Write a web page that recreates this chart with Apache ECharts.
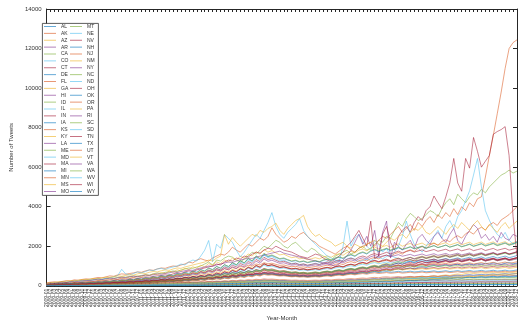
<!DOCTYPE html>
<html><head><meta charset="utf-8">
<script src="https://cdn.jsdelivr.net/npm/echarts@6/dist/echarts.min.js"></script>
<style>html,body{margin:0;padding:0;background:#fff}#c{width:522px;height:326px}</style>
</head><body><div id="c"></div>
<script>
const states = ['AL','AK','AZ','AR','CA','CO','CT','DE','FL','GA','HI','ID','IL','IN','IA','KS','KY','LA','ME','MD','MA','MI','MN','MS','MO','MT','NE','NV','NH','NJ','NM','NY','NC','ND','OH','OK','OR','PA','RI','SC','SD','TN','TX','UT','VT','VA','WA','WV','WI','WY'];
const years = [2009,2010,2011,2012,2013,2014,2015,2016,2017,2018];
const monthNums = ['01','02','03','04','05','06','07','08','09','10','11','12'];
const yTicks = [0,2000,4000,6000,8000,10000,12000,14000];

const s_AL=[40,52,47,61,58,72,66,80,75,92,88,104,97,118,110,126,121,140,133,156,148,170,162,188,176,205,194,224,210,246,232,268,252,290,276,315,298,340,322,368,350,395,378,425,402,455,430,488,460,520,492,548,520,580,545,610,572,590,555,520,535,505,480,495,462,478,450,468,488,462,505,530,502,552,575,548,598,622,590,648,672,640,700,728,692,758,788,750,820,852,810,870,905,862,930,968,920,990,1030,980,1010,1050,1000,1060,1085,1030,1080,1110,1060,1120,1090,1140,1100,1160,1120,1080,1140,1170,1110,1150];
const s_AK=[6,9,7,12,10,14,11,16,13,18,15,20,17,23,19,26,22,28,24,31,27,34,29,37,32,40,35,43,38,46,41,49,44,52,47,56,50,60,54,63,57,67,60,70,64,74,68,78,71,82,75,86,79,90,82,94,86,89,83,78,81,76,72,75,70,73,68,71,74,70,77,81,76,85,89,84,93,98,92,103,108,101,114,119,112,125,131,123,137,143,134,148,155,146,160,166,156,170,176,166,180,186,175,190,196,184,198,204,192,206,212,200,214,220,207,222,228,215,232,240];
const s_AZ=[55,72,64,86,78,100,92,116,106,134,122,152,140,172,158,194,178,218,200,244,224,270,248,298,274,328,300,360,330,392,360,428,394,466,430,508,468,552,510,600,556,652,604,706,654,764,708,826,766,890,826,958,890,1030,956,1100,1020,1060,990,930,960,905,860,885,830,855,810,840,870,835,890,925,880,955,995,945,1030,1070,1015,1105,1145,1090,1180,1225,1165,1265,1310,1250,1350,1395,1330,1390,1440,1375,1450,1500,1430,1480,1530,1460,1520,1560,1490,1550,1590,1520,1575,1610,1540,1590,1630,1560,1610,1650,1580,1620,1660,1600,1640,1680];
const s_AR=[20,30,25,36,32,42,38,48,44,54,50,60,56,68,62,75,70,82,77,90,85,98,92,106,100,115,108,124,116,133,125,143,134,154,144,165,155,176,166,188,176,200,188,212,200,225,212,238,225,252,238,266,252,280,266,295,280,288,272,258,264,250,238,245,232,238,226,234,243,233,250,260,248,272,284,270,296,308,293,320,334,318,347,362,344,376,392,373,408,425,404,432,450,428,456,474,450,478,496,470,498,516,490,520,540,512,540,560,530,558,578,548,575,596,565,590,612,580,606,628];
const s_CA=[100,150,130,180,200,170,220,250,240,280,300,280,320,350,330,370,400,380,420,450,430,470,500,480,520,560,540,600,650,620,680,700,750,720,800,850,900,880,950,1000,1100,1200,1050,1300,1250,1400,1500,1450,1300,1200,1350,1500,1700,1600,1800,2000,1900,2100,2300,2200,2000,1900,2100,2200,2000,1800,1700,1900,1800,1600,1500,1400,1300,1500,1600,1700,1800,1600,1700,1900,2000,1800,1900,2100,2300,2200,2500,2400,2800,3200,3000,3400,3660,3500,3300,3400,3600,3800,3700,3500,3900,4200,4400,4100,4630,4400,4200,4500,4700,4600,4880,4700,5000,5200,5400,5600,5700,5850,5700,5800];
const s_CO=[50,66,60,78,72,92,84,106,98,120,112,136,126,154,142,174,160,196,180,220,202,248,228,278,256,312,288,350,322,392,360,440,404,492,452,552,508,620,570,700,640,780,720,880,810,1000,920,1100,1020,1200,1100,1300,1200,1420,1300,1550,1420,1480,1360,1250,1300,1200,1120,1160,1060,1100,1020,1080,1140,1080,1160,1220,1150,1260,1320,1240,1360,1420,1340,1200,1280,1350,1270,1390,1450,1360,1480,1540,1440,1380,1300,1380,1440,1360,1420,1480,1400,1460,1520,1430,1490,1550,1460,1520,1580,1490,1540,1600,1500,1560,1620,1530,1580,1640,1550,1600,1660,1570,1620,1700];
const s_CT=[30,40,36,50,46,60,55,70,64,80,74,90,84,102,94,114,106,128,118,142,130,156,144,172,158,190,174,208,192,228,210,250,230,274,252,300,276,328,302,358,330,390,360,424,392,460,426,498,462,538,500,580,540,624,580,670,624,648,602,570,588,556,528,545,512,528,498,516,535,512,550,572,546,596,620,592,645,672,640,700,728,694,758,790,752,800,830,790,840,870,826,860,890,846,880,910,865,895,925,878,905,935,888,918,948,900,930,960,912,942,972,922,952,982,932,962,992,942,972,1000];
const s_DE=[5,7,6,9,8,10,9,12,11,13,12,15,14,17,15,18,17,20,18,22,20,24,22,26,24,28,26,30,28,33,30,35,33,38,35,40,37,43,40,46,42,48,45,51,47,54,50,57,53,60,56,63,59,66,62,70,65,68,63,60,62,58,55,57,53,55,52,54,56,53,57,60,57,62,65,61,68,71,67,74,77,73,80,84,79,88,92,87,96,100,94,102,106,100,108,112,106,114,118,111,116,121,114,119,124,117,122,127,120,125,130,122,127,132,125,130,135,127,132,138];
const s_FL=[150,180,200,170,220,260,240,300,280,320,350,330,380,420,400,450,500,480,550,600,580,620,650,700,680,750,800,780,850,900,880,950,1000,980,1050,1100,1200,1150,1300,1370,1300,1250,1400,1500,1600,1550,1700,1950,1800,1700,1900,2100,2000,2200,2400,2300,2500,2930,2600,2400,2200,2300,2500,2400,2600,2700,2500,2300,2200,2000,1900,1800,1700,1600,1750,1900,2000,1800,1700,1900,2000,2100,2200,2000,2300,2500,2400,2600,2800,3000,2700,2900,3100,2800,3200,3000,3300,3500,3200,3600,3400,3700,3500,3900,3600,4000,3800,4200,4000,4400,4500,5500,6585,7600,8700,9800,11000,12000,12300,12440];
const s_GA=[80,102,94,124,114,148,136,174,160,204,188,236,218,270,250,308,284,350,322,396,364,444,408,496,456,550,506,610,560,672,618,740,680,810,746,884,816,960,886,1040,960,1120,1040,1210,1120,1300,1210,1400,1300,1500,1400,1610,1500,1720,1600,1840,1700,1780,1660,1560,1600,1500,1420,1460,1360,1400,1320,1370,1420,1360,1450,1510,1440,1560,1620,1540,1680,1740,1660,1800,1860,1770,1900,1960,1860,1980,2040,1940,2060,2120,2000,2080,2140,2030,2100,2160,2040,2110,2170,2050,2120,2180,2060,2130,2190,2070,2140,2200,2080,2150,2210,2090,2160,2220,2100,2170,2230,2110,2180,2250];
const s_HI=[10,15,12,18,16,21,19,24,22,28,25,31,28,34,31,38,35,42,38,46,42,50,46,55,50,60,55,65,60,70,65,76,70,82,76,88,82,95,88,102,95,110,102,118,110,126,118,135,126,144,135,154,144,164,154,175,164,170,160,152,156,148,141,145,137,141,134,139,144,138,148,154,147,160,167,159,174,181,172,188,196,186,204,212,201,221,230,218,240,250,236,252,262,248,266,276,260,274,284,268,280,290,274,286,296,280,290,300,284,294,304,288,298,308,292,302,312,296,306,318];
const s_ID=[15,20,18,25,23,29,26,33,30,38,34,42,38,47,43,52,48,57,53,63,58,69,64,76,70,83,77,90,84,98,91,106,99,115,107,124,116,134,125,144,134,155,144,166,155,178,166,190,178,203,190,216,203,230,216,244,230,237,224,212,218,206,196,202,190,196,186,193,200,192,205,214,204,222,232,220,242,252,240,262,274,260,285,297,282,310,322,306,336,350,330,348,362,343,360,374,354,370,384,362,378,392,370,386,400,377,392,406,383,398,412,388,404,418,394,410,424,400,414,430];
const s_IL=[80,120,150,130,160,200,180,220,250,230,260,300,280,350,320,380,400,450,520,830,600,550,620,700,650,720,800,760,850,880,820,900,950,1000,1100,1050,1200,1300,1250,1500,1800,2290,1220,2100,1900,2590,2400,2200,1800,1460,1700,2000,2300,2600,2400,2800,3200,3700,3000,2600,2400,2700,2900,3100,3400,2800,2500,2300,2100,1900,1700,1500,1400,1300,1200,2000,3270,2000,2400,2600,2200,2000,1800,2300,2100,1700,1900,1500,1700,2000,2500,3270,2600,2100,1900,1700,2000,2300,2500,2800,2400,3000,3300,2900,3500,3800,4300,4800,5600,6440,5000,3800,3320,2900,2600,2400,2700,2300,2100,2250];
const s_IN=[40,54,48,64,58,76,69,88,80,100,92,114,105,128,118,144,132,160,148,178,164,198,182,220,202,244,224,270,248,298,274,328,302,360,332,396,364,434,400,474,436,518,478,564,520,612,566,662,614,714,662,768,714,824,766,880,820,850,794,740,764,716,676,698,652,674,634,660,688,656,706,734,700,760,792,756,826,860,820,896,934,890,970,1010,962,1050,1094,1040,1100,1150,1090,1140,1190,1130,1180,1230,1165,1210,1260,1190,1230,1280,1210,1250,1300,1230,1270,1320,1245,1285,1330,1255,1295,1340,1265,1305,1350,1275,1315,1360];
const s_IA=[20,26,23,31,28,36,33,41,38,46,43,51,48,57,53,63,59,69,65,76,71,83,78,90,85,98,92,107,100,116,108,126,117,136,127,147,137,158,148,170,159,182,170,195,182,208,194,222,207,236,220,250,234,265,248,280,262,270,256,242,248,236,225,231,218,224,213,221,229,220,235,244,233,254,265,252,276,287,274,299,312,297,326,340,323,354,369,350,370,388,368,384,400,380,396,412,390,406,422,398,414,430,406,422,438,413,428,444,418,434,450,424,440,456,430,446,462,436,452,470];
const s_KS=[25,31,28,36,33,42,38,47,43,53,49,59,55,66,61,73,68,81,75,89,83,98,91,107,100,117,109,128,119,139,130,151,141,164,153,178,166,192,180,207,194,222,208,238,223,255,239,272,255,290,272,309,290,328,309,348,328,338,320,303,311,295,281,289,273,281,267,277,287,275,294,306,292,318,331,316,345,359,343,374,390,372,407,424,404,440,450,430,446,462,440,456,472,450,466,482,458,474,490,466,482,498,472,488,504,478,494,510,484,500,516,490,506,522,496,512,528,502,518,536];
const s_KY=[30,40,36,48,44,56,51,64,58,72,66,81,74,90,83,100,92,111,102,123,113,136,125,150,138,165,152,181,167,199,183,218,201,240,221,264,243,290,267,318,292,348,320,380,350,414,382,450,416,488,452,528,490,570,530,614,572,594,562,530,546,516,490,505,476,490,462,480,498,476,512,534,508,556,580,552,604,630,598,656,686,652,716,748,710,780,800,762,810,840,798,826,854,812,840,868,824,852,880,834,862,890,844,872,900,852,880,908,860,888,916,866,894,922,872,900,928,878,906,936];
const s_LA=[35,45,41,54,49,63,57,72,66,82,75,93,85,105,96,118,108,132,121,147,135,163,150,181,166,200,184,221,203,244,224,269,247,296,272,326,299,358,329,393,361,431,396,472,434,516,476,564,520,616,568,672,620,732,676,796,736,766,722,680,700,662,628,648,612,632,596,618,642,614,660,688,656,716,748,712,780,814,776,848,886,844,924,964,918,980,1010,962,1020,1050,996,1030,1060,1006,1040,1070,1016,1050,1080,1024,1054,1084,1028,1058,1088,1032,1062,1092,1036,1066,1096,1040,1070,1100,1044,1074,1104,1048,1078,1110];
const s_ME=[10,13,12,16,15,19,17,22,20,25,23,28,26,32,29,35,32,39,36,43,40,47,44,52,48,57,53,62,58,68,63,74,69,80,75,87,81,94,88,102,95,110,102,118,110,127,118,136,127,146,136,156,146,167,156,178,167,172,162,153,157,149,142,146,138,142,135,140,145,139,149,155,148,161,168,160,175,182,173,189,197,187,205,214,203,223,232,220,242,252,238,258,270,254,276,288,270,292,304,284,298,310,290,304,316,296,310,322,302,316,330,308,322,336,314,328,342,320,334,350];
const s_MD=[40,54,49,64,58,74,67,84,77,96,88,108,99,122,112,137,125,153,140,171,157,191,175,213,195,237,217,264,241,294,268,326,298,362,330,402,366,446,406,494,450,546,498,604,550,666,606,734,668,806,734,880,804,960,878,1044,956,990,930,870,896,846,802,828,780,804,760,786,814,780,834,866,826,898,934,890,970,1008,962,1048,1090,1036,1128,1172,1114,1160,1200,1142,1188,1230,1168,1210,1250,1188,1228,1268,1204,1244,1284,1218,1258,1298,1232,1272,1312,1244,1284,1324,1256,1296,1336,1266,1306,1346,1276,1316,1356,1286,1326,1370];
const s_MA=[60,78,71,92,84,108,98,124,113,142,130,162,148,184,168,208,190,234,214,262,240,292,268,326,298,362,332,402,368,446,408,494,452,546,500,602,552,662,608,726,668,796,732,870,800,950,874,1036,952,1128,1036,1226,1128,1330,1224,1440,1326,1380,1290,1200,1240,1166,1100,1136,1070,1104,1042,1080,1120,1070,1144,1190,1134,1236,1286,1224,1338,1392,1326,1450,1506,1434,1564,1626,1548,1620,1690,1610,1680,1750,1668,1730,1790,1706,1760,1814,1726,1780,1834,1744,1796,1848,1756,1808,1860,1766,1818,1870,1776,1828,1880,1784,1836,1888,1792,1844,1896,1800,1852,1910];
const s_MI=[45,60,50,72,68,85,80,98,92,110,104,125,118,140,132,155,148,172,165,190,182,210,200,232,220,256,244,282,268,310,295,340,325,372,356,405,388,442,422,480,458,520,496,565,538,612,582,660,630,700,670,745,712,790,755,830,800,780,740,700,720,680,650,670,620,640,600,630,660,620,690,720,680,750,790,740,820,860,810,880,920,870,950,990,940,1020,1070,1010,1100,1150,1090,1180,1240,1170,1270,1330,1260,1300,1350,1280,1330,1380,1310,1360,1410,1340,1390,1440,1360,1410,1460,1380,1430,1480,1400,1450,1500,1420,1470,1530];
const s_MN=[35,48,42,56,52,66,60,75,70,86,80,96,90,108,100,120,112,134,125,148,138,164,152,180,168,198,185,218,204,240,225,262,246,286,270,312,295,340,320,370,348,402,378,435,410,470,445,505,478,540,512,575,548,610,580,640,612,590,560,535,550,520,500,515,480,495,470,490,510,485,530,555,525,575,600,570,625,655,620,680,710,675,740,775,735,805,845,800,880,920,870,955,1000,945,1040,1090,1030,1130,1185,1120,1180,1230,1160,1220,1270,1200,1250,1300,1230,1280,1330,1250,1300,1350,1270,1320,1370,1290,1340,1400];
const s_MS=[15,22,18,26,24,30,28,35,32,40,37,45,42,50,47,56,52,62,58,68,64,75,70,82,77,90,84,98,92,106,100,115,108,124,117,134,126,145,136,156,146,168,157,180,168,192,180,205,192,218,205,232,218,246,232,260,246,252,238,228,232,220,210,216,204,210,198,206,214,204,220,230,218,240,252,240,262,275,262,288,300,286,312,326,310,340,355,338,370,386,368,402,420,400,438,458,436,478,500,476,520,545,518,568,595,565,620,650,618,640,660,630,650,670,640,660,680,650,670,700];
const s_MO=[40,52,46,60,56,70,64,80,74,92,85,104,96,118,108,132,122,148,136,164,150,180,166,198,182,216,200,236,218,258,238,282,260,306,284,332,308,360,334,390,362,420,392,452,424,486,456,520,490,555,522,590,556,625,590,660,624,640,600,570,585,555,530,545,510,525,500,520,540,515,560,585,555,605,630,600,655,685,650,710,740,705,770,805,765,835,875,830,910,950,900,990,1035,980,1080,1130,1070,1180,1235,1170,1220,1270,1200,1250,1300,1230,1280,1330,1250,1300,1350,1270,1320,1370,1290,1340,1390,1310,1360,1420];
const s_MT=[2,4,3,5,4,6,5,7,6,8,7,9,8,10,9,11,10,12,11,13,12,14,13,15,14,16,15,18,16,19,17,20,18,22,20,23,21,24,22,26,24,27,25,29,26,30,28,32,29,33,31,35,32,36,34,38,35,37,34,32,33,31,30,31,29,30,28,30,31,29,32,34,32,35,37,35,38,40,38,42,44,42,46,48,45,50,52,49,54,56,53,58,60,57,62,64,61,66,68,65,70,72,69,74,77,73,79,82,78,84,87,83,89,92,88,94,97,92,99,102];
const s_NE=[12,18,15,22,20,26,24,30,28,34,32,38,36,43,40,48,45,53,50,58,55,64,60,70,66,76,72,83,78,90,85,98,92,106,100,115,108,124,116,133,125,143,134,153,144,164,154,175,164,186,175,198,186,210,198,222,210,215,202,194,198,188,180,185,174,180,170,176,183,175,188,196,186,205,214,204,224,234,222,245,256,244,268,280,266,292,305,290,318,332,316,346,362,344,378,395,375,412,430,410,448,468,445,488,510,485,532,555,528,550,572,545,568,590,562,584,606,578,600,624];
const s_NV=[30,42,38,50,46,58,54,68,62,78,72,88,82,100,92,112,104,126,116,140,130,156,144,172,160,190,176,210,194,232,214,256,236,282,260,310,286,340,314,372,344,406,376,442,410,480,446,520,484,562,524,606,566,650,610,700,656,680,640,610,625,595,570,585,550,565,540,560,580,555,600,625,595,650,680,645,710,740,705,770,800,760,835,870,830,905,945,900,985,1030,980,1075,1120,1065,1170,1220,1160,1200,1250,1180,1230,1280,1210,1260,1310,1240,1290,1340,1260,1310,1360,1280,1330,1380,1300,1350,1400,1320,1370,1430];
const s_NH=[8,12,10,15,13,18,16,21,19,24,22,27,25,30,28,34,31,37,34,41,38,45,42,49,46,54,50,59,55,64,60,70,65,76,71,82,77,89,83,96,90,104,97,112,105,121,113,130,121,140,130,150,140,160,150,170,160,165,155,148,152,144,138,142,134,138,130,135,140,134,144,150,143,157,164,156,172,180,171,188,196,187,205,214,204,224,234,223,245,256,244,268,280,267,293,306,292,320,335,319,350,366,349,383,400,382,418,437,417,440,460,438,458,478,454,474,494,470,490,512];
const s_NJ=[70,90,82,105,98,122,114,140,130,160,148,182,170,206,192,232,216,260,242,290,270,322,300,356,332,392,366,430,402,470,440,512,480,556,522,602,566,650,612,700,660,752,710,806,762,862,816,920,872,980,930,1040,990,1102,1050,1165,1110,1140,1080,1030,1050,1000,960,985,930,955,910,940,970,935,1000,1040,990,1080,1125,1070,1170,1220,1160,1270,1320,1255,1375,1430,1360,1490,1550,1475,1615,1680,1600,1750,1820,1735,1900,1980,1885,2065,2150,2050,2240,2330,2220,2430,2530,2410,2630,2740,2610,2850,2960,2820,3080,3200,3050,3330,3460,3600,3800,4000];
const s_NM=[12,16,14,20,18,24,22,28,26,32,30,36,34,40,38,45,42,50,47,55,52,60,57,66,62,72,68,78,74,85,80,92,87,100,94,108,102,116,110,125,118,134,126,143,135,152,144,162,153,172,162,182,172,192,182,202,192,196,185,177,180,172,165,169,160,164,156,161,167,160,170,177,168,184,192,182,200,209,198,218,227,216,237,247,235,258,269,256,280,292,278,304,317,302,330,344,328,358,373,356,388,405,386,422,440,420,458,478,456,498,520,496,542,566,540,570,590,565,592,620];
const s_NY=[100,130,120,150,180,160,200,230,210,250,270,260,300,330,310,350,380,360,400,430,420,450,480,460,500,540,520,560,600,580,620,650,700,680,720,760,800,780,850,900,950,1000,980,1050,1100,1150,1200,1180,1250,1300,1350,1400,1380,1450,1500,1550,1600,1650,1700,1750,1650,1600,1550,1500,1450,1400,1350,1300,1250,1200,1150,1100,1050,1000,1100,1300,1500,1800,2200,2600,2100,2500,2000,2800,1500,2700,3270,1400,2200,2000,1800,2100,2300,1900,2400,2600,2300,2100,2500,2700,2400,2200,2600,2900,2300,2100,2500,2800,3100,2900,2400,2600,2300,2500,2200,2700,2400,2300,2600,2500];
const s_NC=[45,58,52,68,62,78,72,90,84,104,96,118,110,134,125,150,140,168,156,188,175,210,195,232,216,256,238,282,262,310,288,340,315,372,345,406,376,442,410,480,445,520,482,562,522,606,564,652,608,700,654,750,702,800,750,852,800,820,770,735,752,715,685,702,662,680,648,672,696,668,715,745,710,778,810,772,845,880,840,918,955,910,995,1035,988,1080,1125,1072,1170,1220,1165,1270,1325,1262,1380,1440,1372,1420,1470,1400,1450,1500,1430,1480,1530,1460,1510,1560,1490,1540,1590,1520,1570,1620,1550,1600,1650,1580,1630,1700];
const s_ND=[3,5,4,6,5,7,6,8,7,9,8,10,9,11,10,12,11,13,12,14,13,15,14,16,15,17,16,19,17,20,18,21,19,23,21,24,22,26,24,27,25,29,27,31,28,32,30,34,31,35,33,37,34,39,36,40,37,39,36,34,35,33,32,33,31,32,30,31,33,31,34,36,34,37,39,37,40,42,40,44,46,44,48,50,47,52,54,51,56,58,55,59,61,58,62,64,60,64,66,62,65,67,63,66,68,64,67,69,65,68,70,66,69,71,67,70,72,68,71,74];
const s_OH=[60,80,100,90,120,140,130,160,150,180,200,190,220,250,240,270,300,290,320,350,330,360,400,380,420,450,430,480,500,520,550,530,600,650,620,700,750,720,800,850,900,950,1000,1100,1050,1200,1300,1250,1400,1350,1500,1450,1600,1700,1650,1800,1900,1850,2000,1900,1800,1750,1700,1600,1500,1450,1400,1500,1600,1550,1400,1300,1200,1350,1500,1700,2000,2200,2500,2800,2400,2000,3270,1370,1500,2600,3000,2200,1800,2500,2800,3000,2700,3200,3500,3300,3800,4000,4540,4200,3900,4500,5200,6440,5200,4780,6440,5950,7500,6800,6000,6300,6585,7660,7800,7900,8050,6585,3500,1500];
const s_OK=[25,34,30,42,38,50,45,58,52,66,60,76,69,86,78,97,88,108,98,120,110,134,122,148,135,164,150,182,166,200,183,220,202,242,222,266,244,292,268,320,294,350,322,382,352,416,384,452,418,490,454,530,492,572,532,616,574,596,564,532,548,518,492,507,478,492,464,482,500,478,514,536,510,558,582,554,606,632,600,630,660,626,680,710,672,690,720,682,700,730,690,708,738,698,716,746,706,724,754,712,730,760,718,736,766,724,742,772,730,748,778,736,754,784,742,760,790,748,766,800];
const s_OR=[35,46,41,56,50,66,59,76,68,88,79,100,90,113,102,127,115,142,129,158,144,176,160,195,177,215,196,237,216,261,238,287,262,315,288,345,316,378,346,413,378,450,412,490,449,532,488,578,530,626,574,678,622,732,672,790,726,756,710,666,686,648,614,633,598,616,582,604,628,600,646,674,642,700,730,696,762,796,758,830,866,824,900,940,894,980,1020,970,1010,1050,998,1040,1080,1026,1060,1100,1044,1080,1120,1062,1096,1136,1076,1110,1150,1090,1124,1164,1102,1136,1176,1114,1148,1188,1126,1160,1200,1138,1172,1215];
const s_PA=[120,150,170,200,190,230,260,240,280,310,300,340,370,350,400,430,420,460,500,480,520,560,540,600,640,620,680,720,700,760,800,780,850,900,880,950,1000,1050,1100,1150,1200,1300,1250,1400,1500,2590,2100,2440,2200,2000,2200,2400,2600,2500,2800,2700,2900,3000,3170,2800,2600,2900,3100,3300,3400,3560,3000,2700,2500,2600,2400,2300,2200,2000,2100,2200,2000,1900,2100,2000,1900,2100,2200,2300,2100,2000,2200,2400,2300,2500,2600,2400,2700,2900,2800,3000,2700,2600,2800,3000,2800,2600,2900,3100,2900,3200,3000,2800,3100,3300,3000,2800,3100,2900,2700,3000,3200,2900,3100,3270];
const s_RI=[5,7,6,9,8,11,10,13,12,15,13,17,15,19,17,21,19,24,21,26,24,29,26,32,29,35,32,38,35,42,38,46,42,50,46,54,50,58,54,63,58,68,63,73,68,78,73,84,78,90,84,96,90,102,96,108,102,105,99,94,96,91,87,90,85,87,83,86,89,85,91,95,91,99,103,98,107,112,106,116,121,115,126,131,124,136,142,135,148,154,146,158,164,155,167,173,164,176,182,172,178,184,174,180,186,176,182,188,178,184,190,180,186,192,182,188,194,184,190,198];
const s_SC=[28,38,34,46,42,55,50,64,58,74,67,85,77,97,88,110,100,124,113,139,127,156,142,174,159,194,177,216,197,240,219,266,243,295,270,326,298,360,330,398,364,438,402,482,442,530,486,582,534,638,586,698,642,762,702,830,766,796,750,704,724,684,648,668,630,650,614,637,662,633,682,711,677,740,771,734,806,840,800,876,914,870,950,980,934,960,990,944,970,1000,952,976,1006,958,982,1012,964,988,1018,970,994,1024,976,1000,1030,982,1006,1036,988,1012,1042,994,1018,1048,1000,1024,1054,1006,1030,1060];
const s_SD=[3,5,4,6,5,7,6,8,7,9,8,10,9,12,10,13,11,14,12,15,14,16,15,18,16,19,17,21,19,22,20,24,22,26,23,27,25,29,26,31,28,33,30,35,32,37,34,39,36,41,38,43,40,45,42,47,44,46,43,41,42,40,38,39,37,38,36,37,39,37,40,42,40,43,45,43,47,49,46,51,53,50,55,57,54,59,61,58,63,65,61,66,68,64,69,71,67,72,74,69,72,75,70,73,76,71,74,77,72,75,78,73,76,79,74,77,80,75,78,82];
const s_TN=[38,50,45,62,56,74,67,86,78,100,90,114,103,129,117,146,132,164,149,184,167,206,187,230,209,256,233,284,259,316,288,350,319,388,354,430,392,476,434,526,480,580,530,640,584,704,644,774,708,850,778,932,854,1020,936,1114,1024,1060,996,932,960,906,860,886,836,862,814,843,874,838,896,933,889,968,1008,960,1049,1092,1040,1136,1182,1126,1228,1276,1214,1250,1290,1228,1266,1306,1242,1280,1320,1254,1292,1332,1266,1304,1344,1276,1314,1354,1286,1324,1364,1296,1334,1374,1306,1344,1384,1316,1354,1394,1326,1364,1404,1336,1374,1420];
const s_TX=[60,78,70,94,86,112,102,132,120,154,140,178,162,204,186,232,212,262,240,296,270,332,304,372,340,414,378,460,420,510,466,564,516,622,570,684,626,750,688,820,752,896,822,978,898,1066,978,1160,1066,1260,1158,1366,1256,1478,1360,1596,1468,1530,1436,1346,1380,1300,1232,1270,1198,1236,1168,1210,1254,1202,1284,1336,1272,1386,1442,1374,1500,1560,1486,1620,1684,1604,1750,1818,1730,1800,1870,1780,1850,1920,1826,1890,1960,1866,1930,2000,1900,1960,2030,1930,1990,2060,1956,2016,2086,1980,2040,2110,2004,2064,2134,2026,2086,2156,2046,2106,2176,2066,2126,2200];
const s_UT=[20,28,25,35,31,42,38,50,45,58,52,66,60,76,69,86,78,97,88,108,98,120,110,134,122,148,135,164,150,182,166,200,183,220,202,242,222,266,244,292,268,320,294,350,322,382,352,416,384,452,418,490,454,530,492,572,532,550,520,490,504,476,452,466,440,452,428,444,460,440,474,494,470,514,536,510,558,582,552,590,616,584,630,656,622,640,666,632,650,676,640,658,684,648,666,692,656,674,700,662,680,706,668,686,712,674,692,718,680,698,724,686,704,730,692,710,736,698,716,745];
const s_VT=[4,6,5,8,7,9,8,11,10,12,11,14,12,15,14,17,15,19,17,21,19,23,21,25,23,27,25,30,27,32,29,35,32,38,35,41,37,44,40,47,43,51,46,54,49,58,53,62,57,66,61,70,65,75,69,79,73,76,71,67,69,65,62,64,60,62,59,61,63,60,64,67,64,70,73,69,76,79,75,82,86,82,90,94,89,98,102,97,106,110,104,108,112,106,110,114,108,112,116,110,114,118,112,116,120,114,118,122,116,120,124,118,122,126,120,124,128,122,126,130];
const s_VA=[42,56,50,70,63,84,76,100,90,116,104,134,121,154,139,176,159,200,181,226,204,254,230,286,259,320,290,358,324,398,360,442,400,490,444,542,492,598,544,660,600,726,660,798,726,874,796,956,870,1044,952,1140,1040,1244,1136,1356,1238,1290,1210,1130,1164,1096,1040,1072,1010,1042,984,1020,1058,1014,1082,1126,1072,1168,1214,1156,1262,1312,1250,1362,1416,1350,1470,1528,1454,1500,1550,1476,1522,1572,1494,1540,1590,1510,1556,1606,1524,1570,1620,1538,1584,1634,1550,1596,1646,1562,1608,1658,1574,1620,1670,1586,1632,1682,1598,1644,1694,1610,1656,1710];
const s_WA=[50,66,60,80,72,96,88,114,104,134,122,156,142,180,164,206,188,236,214,268,244,304,276,342,312,384,350,430,392,480,436,534,486,592,538,656,596,724,658,798,726,880,800,968,880,1064,968,1166,1060,1276,1160,1392,1266,1516,1380,1650,1500,1560,1464,1372,1410,1326,1256,1294,1220,1258,1188,1232,1278,1224,1306,1360,1296,1412,1468,1400,1528,1590,1516,1650,1716,1636,1784,1854,1766,1830,1900,1810,1876,1946,1852,1910,1976,1880,1940,2006,1908,1966,2030,1932,1990,2050,1952,2010,2070,1970,2028,2090,1990,2048,2110,2008,2066,2128,2026,2084,2146,2044,2102,2170];
const s_WV=[8,11,10,14,12,16,15,19,17,22,20,25,22,28,25,31,28,34,31,37,34,41,37,45,41,49,45,54,49,58,53,63,58,68,63,74,68,80,74,86,80,93,86,100,93,108,100,116,108,124,116,133,124,142,133,152,142,147,139,131,134,127,121,124,117,121,114,118,122,117,125,130,124,135,141,134,146,152,145,158,165,157,171,178,169,185,192,183,198,206,196,210,218,207,220,228,216,228,236,224,232,240,228,236,244,231,239,247,234,242,250,237,245,253,240,248,256,243,251,260];
const s_WI=[40,54,48,66,60,78,70,90,82,104,94,118,107,134,122,150,137,168,153,188,171,210,191,234,213,260,237,289,263,320,292,354,323,392,357,433,394,478,435,528,480,582,530,642,584,706,642,776,706,852,774,934,848,1022,928,1118,1016,1060,990,920,948,890,842,868,818,844,796,826,858,822,880,918,874,956,998,950,1040,1086,1034,1130,1180,1124,1228,1280,1218,1290,1340,1270,1330,1390,1310,1370,1430,1350,1410,1470,1390,1450,1510,1420,1480,1540,1450,1510,1570,1480,1540,1600,1510,1570,1630,1540,1600,1660,1570,1630,1690,1600,1660,1730];
const s_WY=[1,2,2,3,2,3,3,4,3,5,4,5,5,6,5,7,6,7,7,8,7,9,8,10,9,11,10,11,11,12,11,13,12,14,13,15,14,16,15,17,16,18,17,19,18,20,19,21,20,22,21,23,22,24,23,25,24,25,23,22,23,22,21,22,20,21,20,21,22,21,22,23,22,24,25,24,26,27,26,28,29,28,30,31,30,32,33,32,34,35,34,36,37,35,38,39,37,40,41,39,42,43,41,44,45,43,46,47,45,48,49,47,50,51,49,52,53,51,54,56];

const stateValues = [s_AL,s_AK,s_AZ,s_AR,s_CA,s_CO,s_CT,s_DE,s_FL,s_GA,s_HI,s_ID,s_IL,s_IN,s_IA,s_KS,s_KY,s_LA,s_ME,s_MD,s_MA,s_MI,s_MN,s_MS,s_MO,s_MT,s_NE,s_NV,s_NH,s_NJ,s_NM,s_NY,s_NC,s_ND,s_OH,s_OK,s_OR,s_PA,s_RI,s_SC,s_SD,s_TN,s_TX,s_UT,s_VT,s_VA,s_WA,s_WV,s_WI,s_WY];

const months = [];
years.forEach(y => monthNums.forEach(m => months.push(y + '-' + m)));

const palette = ['#0072BD','#D95319','#EDB120','#7E2F8E','#77AC30','#4DBEEE','#A2142F'];
const FONT = '"Liberation Sans", Arial, sans-serif';
const axisColor = '#262626';

const chart = echarts.init(document.getElementById('c'), null, {renderer: 'canvas'});
const legendCommon = {
  orient: 'vertical', padding: 0, itemWidth: 12, itemHeight: 1, itemGap: 1.875,
  icon: 'rect', itemStyle: {opacity: 0.6},
  textStyle: {fontSize: 5, lineHeight: 5, color: '#333', fontFamily: FONT, padding: [0,0,0,0]},
  selectedMode: false
};
const lineAxis = {show: true, onZero: false, lineStyle: {color: axisColor, width: 1}};
chart.setOption({
  animation: false,
  color: palette,
  textStyle: {fontFamily: FONT},
  grid: {left: 40, right: 5, top: 9, bottom: 31},
  xAxis: [{
    type: 'category', data: months, boundaryGap: false,
    axisLine: lineAxis,
    axisTick: {inside: true, length: 3, interval: 0, lineStyle: {color: axisColor}},
    axisLabel: {rotate: 90, fontSize: 5, interval: 0, color: '#333', margin: 3, fontFamily: FONT},
    name: 'Year-Month', nameLocation: 'middle', nameGap: 26,
    nameTextStyle: {fontSize: 6, color: '#333', fontFamily: FONT}
  }, {
    type: 'category', data: months, boundaryGap: false, position: 'top',
    axisLine: lineAxis,
    axisTick: {show: true, inside: true, length: 3, interval: 0, lineStyle: {color: axisColor}},
    axisLabel: {show: false}
  }],
  yAxis: [{
    type: 'value', min: yTicks[0], max: yTicks[yTicks.length-1], interval: yTicks[1]-yTicks[0],
    axisLine: lineAxis,
    axisTick: {show: true, inside: true, length: 4, lineStyle: {color: axisColor}},
    axisLabel: {fontSize: 6, color: '#333', margin: 5, fontFamily: FONT, formatter: v => String(v)},
    splitLine: {show: false},
    name: 'Number of Tweets', nameLocation: 'middle', nameGap: 29, nameRotate: 90,
    nameTextStyle: {fontSize: 6, color: '#333', fontFamily: FONT}
  }, {
    type: 'value', position: 'right', min: yTicks[0], max: yTicks[yTicks.length-1], interval: yTicks[1]-yTicks[0],
    axisLine: lineAxis,
    axisTick: {show: true, inside: true, length: 4, lineStyle: {color: axisColor}},
    axisLabel: {show: false}, splitLine: {show: false}
  }],
  graphic: [{
    type: 'rect', z: 3, left: 42, top: 23,
    shape: {width: 56, height: 172},
    style: {fill: '#fff', stroke: '#333', lineWidth: 0.8}
  }],
  legend: [
    Object.assign({left: 44, top: 24, data: states.slice(0, 25), z: 10}, legendCommon),
    Object.assign({left: 70, top: 24, data: states.slice(25), z: 10}, legendCommon)
  ],
  series: states.map((s, i) => ({
    name: s, type: 'line', data: stateValues[i], symbol: 'none',
    color: palette[i % 7],
    lineStyle: {width: 0.9, opacity: 0.6}
  }))
});
</script></body></html>
